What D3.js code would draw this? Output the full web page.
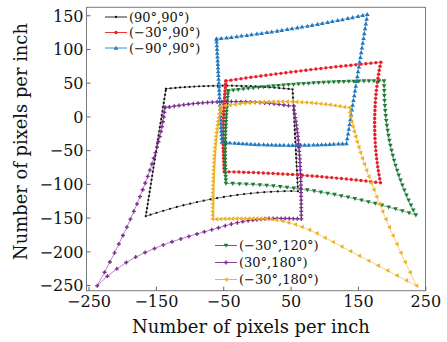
<!DOCTYPE html>
<html><head><meta charset="utf-8">
<script src="https://cdn.jsdelivr.net/npm/d3@7"></script>
<style>body{margin:0;background:#fff}svg{display:block}</style>
</head><body>
<svg id="c" width="447" height="342"></svg>
<script>
// ---- data (pixels per inch) ----
const seriesNames = ["(90°,90°)","(−30°,90°)","(−90°,90°)","(−30°,120°)","(30°,180°)","(−30°,180°)"];
const xTicks = [-250,-150,-50,50,150,250];
const yTicks = [-250,-200,-150,-100,-50,0,50,100,150];

const s90_90 = [[-135,41],[-128,41.7],[-121,42.3],[-114,42.9],[-107,43.4],[-100,43.8],[-93,44.2],[-86,44.6],[-79,44.9],[-72,45.1],[-65,45.3],[-58,45.4],[-51,45.5],[-44,45.5],[-37,45.5],[-30,45.4],[-23,45.2],[-16,45.0],[-9,44.8],[-2,44.5],[5,44.1],[12,43.7],[19,43.2],[26,42.7],[33,42.1],[40,41.5],[47,40.8],[53,40.2],
[53.3,34],[53.6,28],[54,22],[54.3,16],[54.6,10],[55,4],[55.2,-2],[55.5,-8],[55.9,-14],[56.2,-20],[56.5,-26],[56.8,-32],[57.1,-38],[57.5,-44],[57.8,-50],[58.1,-56],[58.4,-62],[58.7,-68],[59,-74],[59.4,-80],[59.7,-86],[60,-92],[60.3,-98],[60.6,-104],[61,-111],
[51,-110.6],[41,-110.8],[31,-111.2],[21,-111.7],[11,-112.3],[1,-113.1],[-9,-114.1],[-19,-115.2],[-29,-116.4],[-39,-117.8],[-49,-119.4],[-59,-121.1],[-69,-122.9],[-79,-124.9],[-89,-127],[-99,-129.3],[-109,-131.7],[-119,-134.3],[-129,-137],[-139,-139.9],[-149,-142.9],[-158,-145.7],[-165,-148],
[-164,-142],[-163.1,-136],[-162.1,-130],[-161.2,-124],[-160.2,-118],[-159.3,-112],[-158.3,-106],[-157.4,-100],[-156.4,-94],[-155.5,-88],[-154.5,-82],[-153.6,-76],[-152.6,-70],[-151.7,-64],[-150.7,-58],[-149.8,-52],[-148.8,-46],[-147.9,-40],[-146.9,-34],[-146,-28],[-145,-22],[-144.1,-16],[-143.1,-10],[-142.1,-4],[-141.2,2],[-140.2,8],[-139.3,14],[-138.3,20],[-137.4,26],[-136.4,32],[-135.5,38],[-135,41]];

const sM30_90 = [[-46,52.7],[-38.6,53.8],[-31.2,54.9],[-23.7,55.9],[-16.3,56.9],[-8.9,58],[-1.5,59],[5.9,60],[13.4,61],[20.8,62],[28.2,63],[35.6,63.9],[43,64.8],[50.5,65.8],[57.9,66.7],[65.3,67.6],[72.7,68.5],[80.1,69.4],[87.6,70.3],[95,71.1],[102.4,72],[109.8,72.8],[117.2,73.6],[124.7,74.4],[132.1,75.2],[139.5,75.9],[146.9,76.7],[154.3,77.5],[161.8,78.2],[169.2,79],[176.6,79.7],[184,80.4],
[182.8,74.4],[181.7,68.5],[180.7,62.5],[179.8,56.6],[178.9,50.6],[178.1,44.6],[177.4,38.7],[176.8,32.7],[176.3,26.8],[175.8,20.8],[175.5,14.8],[175.2,8.9],[175,2.9],[174.8,-3],[174.75,-9],[174.8,-15],[174.9,-20.9],[175.1,-26.9],[175.3,-32.8],[175.7,-38.8],[176.1,-44.8],[176.6,-50.7],[177.2,-56.7],[177.8,-62.6],[178.6,-68.6],[179.4,-74.6],[180.3,-80.5],[181.3,-86.5],[182.4,-92.4],[183.5,-98.4],
[176.3,-97.5],[169,-96.7],[161.8,-95.8],[154.5,-95],[147.3,-94.3],[140,-93.5],[132.8,-92.8],[125.5,-92.1],[118.3,-91.4],[111,-90.7],[103.8,-90.1],[96.5,-89.4],[89.3,-88.8],[82,-88.3],[74.8,-87.7],[67.5,-87.2],[60.3,-86.7],[53,-86.2],[45.8,-85.8],[38.5,-85.3],[31.3,-84.9],[24,-84.5],[16.8,-84.2],[9.5,-83.9],[2.3,-83.5],[-5,-83.2],[-12.3,-83],[-19.5,-82.7],[-26.8,-82.5],[-34,-82.3],[-41.3,-82.2],[-48.5,-82],
[-48.8,-77],[-49.1,-72],[-49.3,-67],[-49.5,-62],[-49.7,-57.1],[-49.8,-52.1],[-50,-47.1],[-50.1,-42.1],[-50.1,-37.1],[-50.1,-32.1],[-50.1,-27.1],[-50.1,-22.1],[-50,-17.1],[-50,-12.1],[-49.8,-7.2],[-49.7,-2.2],[-49.5,2.8],[-49.3,7.8],[-49,12.8],[-48.8,17.8],[-48.5,22.8],[-48.1,27.8],[-47.8,32.8],[-47.4,37.7],[-46.9,42.7],[-46.5,47.7],[-46,52.7]];

const sM90_90 = [[-60,115],[-53,115.8],[-45,116.7],[-38,117.5],[-30,118.5],[-23,119.4],[-15,120.4],[-8,121.3],[0,122.4],[7,123.4],[15,124.6],[22,125.6],[30,126.8],[37,127.9],[45,129.1],[52,130.3],[60,131.6],[67,132.8],[75,134.1],[82,135.3],[90,136.8],[97,138.1],[105,139.6],[112,140.9],[120,142.4],[127,143.8],[135,145.5],[142,146.8],[150,148.5],[157,150],[164,151.5],
[162.9,144.4],[161.7,137.3],[160.6,130.2],[159.4,123.1],[158.3,116],[157.1,108.9],[156,101.9],[154.8,94.8],[153.7,87.7],[152.5,80.6],[151.4,73.5],[150.2,66.4],[149.1,59.3],[147.9,52.2],[146.8,45.2],[145.6,38.1],[144.5,31],[143.3,23.9],[142.2,16.8],[141,9.7],[139.9,2.6],[138.7,-4.5],[137.6,-11.6],[136.4,-18.7],[135.3,-25.8],[134.1,-32.9],[133,-40],
[127,-40.4],[121,-40.7],[114,-41.1],[108,-41.4],[102,-41.6],[96,-41.8],[90,-42],[84,-42.2],[77,-42.4],[71,-42.4],[65,-42.5],[59,-42.6],[53,-42.6],[47,-42.6],[40,-42.5],[34,-42.4],[28,-42.3],[22,-42.2],[16,-42],[10,-41.8],[3,-41.5],[-3,-41.3],[-9,-41],[-15,-40.6],[-21,-40.3],[-27,-39.9],[-33,-39.5],[-40,-39],[-46,-38.5],[-52,-38],
[-52.3,-32.5],[-52.6,-27],[-52.9,-21.5],[-53.2,-16],[-53.4,-10.5],[-53.7,-5],[-54,0.5],[-54.3,6],[-54.6,11.5],[-54.9,17],[-55.2,22.5],[-55.5,28],[-55.7,33.5],[-56,39],[-56.3,44.5],[-56.6,50],[-56.9,55.5],[-57.2,61],[-57.5,66.5],[-57.8,72],[-58,77.5],[-58.3,83],[-58.6,88.5],[-58.9,94],[-59.2,99.5],[-59.5,105],[-59.8,110.5],[-60,115]];

const sM30_120 = [[-42.6,37.9],[-35.1,38.8],[-27.7,39.7],[-20.2,40.6],[-12.8,41.4],[-5.3,42.2],[2.2,42.9],[9.6,43.7],[17.1,44.4],[24.5,45.1],[32,45.7],[39.5,46.4],[46.9,47],[54.4,47.5],[61.8,48.1],[69.3,48.6],[76.8,49],[84.2,49.5],[91.7,49.9],[99.1,50.3],[106.6,50.7],[114.1,51],[121.5,51.3],[129,51.6],[136.4,51.8],[143.9,52],[151.4,52.2],[158.8,52.4],[166.3,52.5],[173.7,52.6],[181.2,52.7],[188.8,52.7],
[188.8,45.3],[189,38],[189.2,30.6],[189.5,23.2],[190,15.9],[190.5,8.5],[191.2,1.1],[192,-6.3],[193,-13.6],[194.1,-21],[195.3,-28.4],[196.7,-35.7],[198.2,-43.1],[199.9,-50.5],[201.7,-57.9],[203.7,-65.2],[205.8,-72.6],[208.2,-80],[210.6,-87.3],[213.2,-94.7],[216,-102.1],[218.9,-109.4],[222,-116.8],[225.2,-124.2],[228.7,-131.6],[232.2,-138.9],[236,-146.3],
[225.9,-143.2],[215.9,-140.2],[205.8,-137.3],[195.7,-134.5],[185.7,-131.8],[175.6,-129.2],[165.5,-126.7],[155.4,-124.3],[145.4,-122.1],[135.3,-119.9],[125.2,-117.9],[115.2,-115.9],[105.1,-114.1],[95,-112.4],[85,-110.7],[74.9,-109.2],[64.8,-107.8],[54.7,-106.5],[44.7,-105.3],[34.6,-104.2],[24.5,-103.2],[14.5,-102.4],[4.4,-101.6],[-5.7,-101],[-15.7,-100.4],[-25.8,-100],[-35.9,-99.6],[-46,-99.4],
[-46.2,-94.3],[-46.4,-89.2],[-46.6,-84.1],[-46.8,-79.1],[-46.9,-74],[-47,-68.9],[-47,-63.8],[-47.1,-58.7],[-47.1,-53.6],[-47.1,-48.5],[-47,-43.5],[-47,-38.4],[-46.9,-33.3],[-46.7,-28.2],[-46.6,-23.1],[-46.4,-18],[-46.2,-12.9],[-45.9,-7.9],[-45.7,-2.8],[-45.4,2.3],[-45.1,7.4],[-44.7,12.5],[-44.4,17.6],[-44,22.7],[-43.5,27.7],[-43.1,32.8],[-42.6,37.9]];

const s30_180 = [[-136.5,13.2],[-129.9,14],[-122.8,15.2],[-115.7,16.2],[-108.6,17.2],[-101.6,18.1],[-94.5,18.9],[-87.4,19.6],[-80.4,20.2],[-73.3,20.7],[-66.2,21.1],[-59.1,21.5],[-52.1,21.7],[-45,21.9],[-37.9,22],[-30.9,22],[-23.8,21.9],[-16.7,21.7],[-9.6,21.4],[-2.6,21.1],[4.5,20.6],[11.6,20.1],[18.6,19.5],[25.7,18.7],[32.8,17.9],[39.9,17],[46.9,16.1],[55,15.2],
[55.1,9.4],[56.1,3.9],[57,-1.7],[57.9,-7.3],[58.7,-12.8],[59.4,-18.4],[60.1,-24],[60.8,-29.5],[61.3,-35.1],[61.9,-40.7],[62.4,-46.2],[62.8,-51.8],[63.2,-57.4],[63.6,-62.9],[63.9,-68.5],[64.2,-74.1],[64.5,-79.6],[64.7,-85.2],[64.9,-90.8],[65.1,-96.3],[65.3,-101.9],[65.4,-107.5],[65.5,-113],[65.6,-118.6],[65.7,-124.2],[65.8,-129.7],[65.8,-135.3],[65.9,-140.9],[65.9,-146.4],[66,-152],
[60,-151.8],[54,-151.6],[48,-151.4],[42,-151.3],[36,-151.2],[30,-151.2],[24,-151.3],[18,-151.5],[12,-151.8],[6,-152.3],[0,-153],[-6,-153.7],[-13,-154.5],[-21,-155.8],[-29,-157.5],[-38,-159.7],[-47,-162],[-57,-165],[-67,-167.9],[-78,-171],[-89,-174.3],[-101,-177.9],[-113,-181.6],[-126,-185.8],[-139,-190.5],[-152,-195.8],[-166,-201.8],[-180,-208.6],[-194,-216.6],[-208,-226],[-222,-237],[-237,-251],
[-226.2,-231],[-218.3,-215.8],[-211.4,-202.3],[-205,-189.2],[-198.9,-176.5],[-193.1,-164.2],[-187.8,-152.3],[-182.7,-140.8],[-178,-129.7],[-173.7,-119],[-169.6,-108.7],[-165.8,-98.7],[-162.2,-89],[-159,-79.7],[-155.9,-70.7],[-153.2,-62],[-150.6,-53.6],[-148.3,-45.5],[-146.2,-37.6],[-144.2,-29.9],[-142.5,-22.4],[-140.9,-15.1],[-139.6,-7.9],[-138.4,-0.8],[-137.5,6.2],[-136.5,13.2]];

const sM30_180 = [[-54,15],[-46.9,16.1],[-39.9,17],[-32.8,17.9],[-25.7,18.7],[-18.6,19.5],[-11.6,20.1],[-4.5,20.6],[2.6,21.1],[9.6,21.4],[16.7,21.7],[23.8,21.9],[30.9,22],[37.9,22],[45,21.9],[52.1,21.7],[59.1,21.5],[66.2,21.1],[73.3,20.7],[80.4,20.2],[87.4,19.6],[94.5,18.9],[101.6,18.1],[108.6,17.2],[115.7,16.2],[122.8,15.2],[129.9,14],[137,13.2],
[137.9,6.2],[139.2,-0.8],[140.7,-7.9],[142.5,-15.1],[144.4,-22.4],[146.5,-29.9],[148.7,-37.6],[151.2,-45.5],[153.7,-53.6],[156.5,-62],[159.5,-70.7],[162.7,-79.7],[166.1,-89],[169.7,-98.7],[173.6,-108.7],[177.7,-119],[182,-129.7],[186.6,-140.8],[191.4,-152.3],[196.6,-164.2],[202,-176.5],[207.7,-189.2],[213.7,-202.3],[220,-215.8],[227.3,-231],[237,-251],
[222,-243.1],[208,-235.8],[194,-228.5],[180,-221.2],[166,-213.9],[152,-206.6],[139,-199.8],[126,-193],[113,-186.2],[101,-179.8],[89,-173.4],[78,-168.2],[67,-163.8],[57,-160.3],[47,-157.4],[38,-155.2],[29,-153.6],[21,-152.4],[13,-151.7],[6,-151.3],[0,-151.2],[-6,-151.2],[-12,-151.2],[-18,-151.3],[-24,-151.4],[-30,-151.5],[-36,-151.6],[-42,-151.7],[-48,-151.9],[-54,-152.1],[-60,-152.3],[-66,-152.2],
[-65.9,-146.4],[-65.9,-140.9],[-65.8,-135.3],[-65.8,-129.7],[-65.7,-124.2],[-65.6,-118.6],[-65.5,-113],[-65.4,-107.5],[-65.3,-101.9],[-65.1,-96.3],[-64.9,-90.8],[-64.7,-85.2],[-64.5,-79.6],[-64.2,-74.1],[-63.9,-68.5],[-63.6,-62.9],[-63.2,-57.4],[-62.8,-51.8],[-62.4,-46.2],[-61.9,-40.7],[-61.3,-35.1],[-60.8,-29.5],[-60.1,-24],[-59.4,-18.4],[-58.7,-12.8],[-57.9,-7.3],[-57,-1.7],[-56.1,3.9],[-55.1,9.4],[-54,15]];

const seriesData = [s90_90, sM30_90, sM90_90, sM30_120, s30_180, sM30_180];
const colors = ["#111111","#e8202a","#1f78bf","#1f7a35","#7b2d8e","#edb120"];
const markerKinds = ["dot","circle","up","down","cross","left"];

// ---- layout ----
const svg = d3.select("#c");
const x = d3.scaleLinear().domain([-253,250.3]).range([86.5,425.5]);
const y = d3.scaleLinear().domain([-258.4,161.8]).range([290.7,7.3]);
const FONT = "'DejaVu Serif', serif";

function markerPath(kind){
  const s = 2.3;
  switch(kind){
    case "up": return `M0,${-s}L${s},${s*0.75}L${-s},${s*0.75}Z`;
    case "down": return `M0,${s}L${s},${-s*0.75}L${-s},${-s*0.75}Z`;
    case "left": return `M${-s},0L${s*0.75},${-s}L${s*0.75},${s}Z`;
    case "cross": return d3.symbol(d3.symbolCross, 9)();
    case "circle": return d3.symbol(d3.symbolCircle, 9)();
    default: return d3.symbol(d3.symbolCircle, 4)();
  }
}

const plot = svg.append("g");
const line = d3.line().x(d=>x(d[0])).y(d=>y(d[1]));
seriesData.forEach((data,i)=>{
  const g = plot.append("g");
  g.append("path").attr("d", line(data)).attr("fill","none")
    .attr("stroke", colors[i]).attr("stroke-width",0.7).attr("stroke-opacity",0.8);
  g.selectAll("path.m").data(data).join("path").attr("class","m")
    .attr("transform", d=>`translate(${x(d[0])},${y(d[1])})`)
    .attr("d", markerPath(markerKinds[i])).attr("fill", colors[i]);
});

// frame
svg.append("rect").attr("x",86.5).attr("y",7.3).attr("width",339).attr("height",283.4)
  .attr("fill","none").attr("stroke","#7a7a7a").attr("stroke-width",1);

// axes
const xa = svg.append("g").attr("transform","translate(0,290.7)")
  .call(d3.axisBottom(x).tickValues(xTicks).tickSizeInner(-4).tickSizeOuter(0));
xa.select(".domain").remove();
xa.selectAll(".tick line").attr("stroke","#666");
xa.selectAll(".tick text").attr("y",16.5).attr("dy",0).attr("font-family",FONT).attr("font-size",16).attr("fill","#111");

const ya = svg.append("g").attr("transform","translate(86.5,0)")
  .call(d3.axisLeft(y).tickValues(yTicks).tickSizeInner(-4).tickSizeOuter(0).tickPadding(3));
ya.select(".domain").remove();
ya.selectAll(".tick line").attr("stroke","#666");
ya.selectAll(".tick text").attr("font-family",FONT).attr("font-size",16).attr("fill","#111").attr("dy","0.36em");

// axis labels
function fitText(t, w){
  let fs = 18; t.attr("font-size",fs);
  const len = t.node().getComputedTextLength();
  t.attr("font-size", fs*w/len);
}
const xl = svg.append("text").attr("x",251).attr("y",333).attr("text-anchor","middle")
  .attr("font-family",FONT).attr("fill","#111").text("Number of pixels per inch");
fitText(xl, 238);
const yl = svg.append("text").attr("transform","translate(27,141.5) rotate(-90)").attr("text-anchor","middle")
  .attr("font-family",FONT).attr("fill","#111").text("Number of pixels per inch");
fitText(yl, 237);

// legends
function legend(idx, x0, y0, dy){
  idx.forEach((si,k)=>{
    const yy = y0 + k*dy;
    const g = svg.append("g");
    g.append("line").attr("x1",x0).attr("x2",x0+22).attr("y1",yy).attr("y2",yy)
      .attr("stroke",colors[si]).attr("stroke-width",0.9);
    g.append("path").attr("transform",`translate(${x0+11},${yy})`).attr("d",markerPath(markerKinds[si])).attr("fill",colors[si]);
    g.append("text").attr("x",x0+24).attr("y",yy).attr("dy","0.35em")
      .attr("font-family",FONT).attr("font-size",13).attr("fill","#111").text(seriesNames[si]);
  });
}
legend([0,1,2], 105, 17, 15.5);
legend([3,4,5], 215, 245.5, 17);
</script>
</body></html>
